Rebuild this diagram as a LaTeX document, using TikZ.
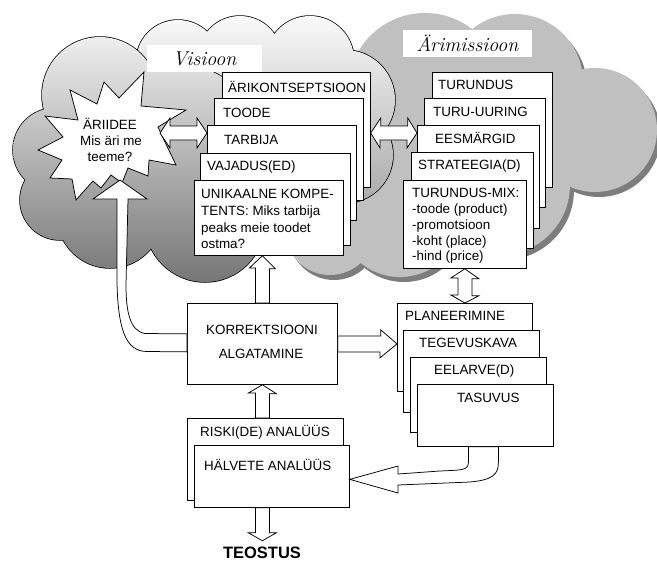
\documentclass[tikz,border=0pt]{standalone}
\usepackage{fontspec}
\setmainfont{Liberation Sans}
\usetikzlibrary{calc}
\definecolor{rcloud}{RGB}{192,192,192}
\definecolor{rshadow}{RGB}{125,125,125}
\definecolor{ltop}{RGB}{238,238,238}
\definecolor{lbot}{RGB}{118,118,118}
\definecolor{mtop}{RGB}{250,250,250}
\definecolor{mbot}{RGB}{150,150,150}
\newcommand\lblscript{\fontencoding{TU}\fontfamily{lmr}\fontseries{m}\fontshape{it}\selectfont}
\newcommand\rlist{425/90/77,515/82/68,595/130/62,500/185/70,400/215/62,330/230/45,480/140/80,390/150/60}
\newcommand\mlist{178/62/42,240/58/42,310/60/44,345/100/50,345/155/48,270/140/80}
\newcommand\llist{100/95/58,55/150/42,60/200/40,110/215/53,205/222/60,180/145/80,230/170/60}
\begin{document}
\begin{tikzpicture}[x=1pt,y=-1pt,
  box/.style={draw=black,fill=white,line width=0.75pt,inner sep=0pt,anchor=north west},
  lbl/.style={font=\fontsize{13.4}{16}\selectfont,inner sep=0pt,anchor=base west},
  clbl/.style={font=\fontsize{13.4}{16}\selectfont,inner sep=0pt,anchor=base},
  hollow/.style={draw=black,fill=white,line width=0.75pt,line join=miter},
  tag/.style={fill=white,inner sep=0pt,font=\lblscript\fontsize{20}{22}\selectfont}]
\useasboundingbox (0,0) rectangle (657,563);

% right cloud (flat grey with shadow)
\fill[rshadow,shift={(4,5)}] \foreach \a/\b/\r in \rlist {(\a,\b) circle[radius=\r pt]};
\fill[rcloud] \foreach \a/\b/\r in \rlist {(\a,\b) circle[radius=\r pt]};

% middle cloud (light gradient)
\draw[line width=1.5pt] \foreach \a/\b/\r in \mlist {(\a,\b) circle[radius=\r pt]};
\begin{scope}
  \clip \foreach \a/\b/\r in \mlist {(\a,\b) circle[radius=\r pt]};
  \shade[top color=mtop,bottom color=mbot] (120,14) rectangle (400,250);
\end{scope}

% left cloud (dark gradient)
\draw[line width=1.5pt] \foreach \a/\b/\r in \llist {(\a,\b) circle[radius=\r pt]};
\begin{scope}
  \clip \foreach \a/\b/\r in \llist {(\a,\b) circle[radius=\r pt]};
  \shade[top color=ltop,bottom color=lbot] (0,37) rectangle (300,283);
\end{scope}

% labels
\node[tag,minimum width=115pt,minimum height=27pt] (vis) at (204.5,58.5) {Visioon};
\node[tag,minimum width=129pt,minimum height=27pt] (ari) at (467.5,43.5) {Ärimissioon};

% star
\draw[hollow] (45,116) -- (78,120) -- (70,90) -- (97,104) -- (104,82) -- (119,98) -- (144,72)
  -- (141,106) -- (186,110) -- (158,127) -- (164,140) -- (176,165) -- (149,160) -- (148,176)
  -- (128,168) -- (122,183) -- (111,175) -- (101,188) -- (93,181) -- (76,200) -- (72,179)
  -- (50,178) -- (62,160) -- (38,150) -- (63,137) -- cycle;
\node[clbl] (st1) at (110,129) {ÄRIIDEE};
\node[clbl] (st2) at (111,145) {Mis äri me};
\node[clbl] (st3) at (110,161) {teeme?};
\coordinate (starR) at (160,133);
\coordinate (starB) at (120,180);

% left stack
\node[box,minimum width=148pt,minimum height=115pt] (b1) at (222,72) {};
\node[box,minimum width=149pt,minimum height=102pt] (b2) at (214,98) {};
\node[box,minimum width=149pt,minimum height=95pt] (tarb) at (207,125) {};
\node[box,minimum width=150pt,minimum height=92pt] (b4) at (200,153) {};
\node[box,minimum width=149pt,minimum height=75pt] (unik) at (194,180) {};
\node[lbl] (t1) at (228,92) {ÄRIKONTSEPTSIOON};
\node[lbl] (t2) at (223,117) {TOODE};
\node[lbl] (t3) at (224,144) {TARBIJA};
\node[lbl] (t4) at (207,170) {VAJADUS(ED)};
\node[lbl] (t5a) at (201,198) {UNIKAALNE KOMPE-};
\node[lbl] (t5b) at (201,215) {TENTS: Miks tarbija};
\node[lbl] (t5c) at (201,232) {peaks meie toodet};
\node[lbl] (t5d) at (201,248) {ostma?};

% right stack
\node[box,minimum width=120pt,minimum height=115pt] (r1) at (432,72) {};
\node[box,minimum width=121pt,minimum height=109pt] (r2) at (424,98) {};
\node[box,minimum width=122pt,minimum height=103pt] (r3) at (417,125) {};
\node[box,minimum width=122pt,minimum height=96pt] (r4) at (411,152) {};
\node[box,minimum width=123pt,minimum height=88pt] (mix) at (403,180) {};
\node[lbl] (u1) at (438,89) {TURUNDUS};
\node[lbl] (u2) at (433,116) {TURU-UURING};
\node[lbl] (u3) at (435,143) {EESMÄRGID};
\node[lbl] (u4) at (418,169) {STRATEEGIA(D)};
\node[lbl] (u5a) at (412,197) {TURUNDUS-MIX:};
\node[lbl] (u5b) at (412,213) {-toode (product)};
\node[lbl] (u5c) at (412,229) {-promotsioon};
\node[lbl] (u5d) at (412,245) {-koht (place)};
\node[lbl] (u5e) at (412,260) {-hind (price)};

% planning stack
\node[box,minimum width=135pt,minimum height=88pt] (plan) at (397,303) {};
\node[box,minimum width=136pt,minimum height=82pt] (p2) at (403,330) {};
\node[box,minimum width=136pt,minimum height=75pt] (p3) at (410,357) {};
\node[box,minimum width=136pt,minimum height=62pt] (tas) at (417,384) {};
\node[lbl] (v1) at (405,320) {PLANEERIMINE};
\node[lbl] (v2) at (419,347) {TEGEVUSKAVA};
\node[lbl] (v3) at (434,374) {EELARVE(D)};
\node[lbl] (v4) at (457,402) {TASUVUS};

% correction box
\node[box,minimum width=150pt,minimum height=81pt] (korr) at (187,303) {};
\node[clbl] (k1) at (262,334) {KORREKTSIOONI};
\node[clbl] (k2) at (261,358) {ALGATAMINE};

% risk stack
\node[box,minimum width=156pt,minimum height=82pt] (riski) at (187,418) {};
\node[box,minimum width=155pt,minimum height=62pt] (hal) at (194,445) {};
\node[lbl] (h1) at (200,436) {RISKI(DE) ANALÜÜS};
\node[lbl] (h2) at (204,470) {HÄLVETE ANALÜÜS};

\node[font=\bfseries\fontsize{16.5}{19}\selectfont,inner sep=0pt,anchor=base] (teo) at (262,558) {TEOSTUS};

% arrows
% star <-> TARBIJA
\draw[hollow] (starR) -- ++(10,-15) -- ++(0,8) -- ++(27,0) -- ++(0,-8) -- (starR -| tarb.west)
  -- ++(-10,15) -- ++(0,-8) -- ++(-27,0) -- ++(0,8) -- cycle;
% left stack <-> right stack
\draw[hollow] (starR -| b1.east) -- ++(10,-15) -- ++(0,8) -- ++(27,0) -- ++(0,-8) -- (starR -| r3.west)
  -- ++(-10,15) -- ++(0,-8) -- ++(-27,0) -- ++(0,8) -- cycle;
% korr -> unik
\draw[hollow] ($(korr.north)+(-7,0)$) -- ++(0,-35) -- ++(-6,0) -- (korr.north |- unik.south)
  -- ++(13,13) -- ++(-6,0) -- ($(korr.north)+(7,0)$) -- cycle;
% riski -> korr
\draw[hollow] ($(korr.south |- riski.north)+(-7,0)$) -- ++(0,-25) -- ++(-7,0) -- (korr.south)
  -- ++(14,9) -- ++(-7,0) -- ($(korr.south |- riski.north)+(7,0)$) -- cycle;
% hal -> teostus
\draw[hollow] ($(korr.south |- hal.south)+(-7,0)$) -- ++(0,25) -- ++(-7,0) -- ++(14,8)
  -- ++(14,-8) -- ++(-7,0) -- ++(0,-25) -- cycle;
% korr -> plan
\draw[hollow] ($(korr.east)+(0,-8)$) -- ++(43,0) -- ++(0,-6) -- (korr.east -| plan.west)
  -- ++(-17,14) -- ++(0,-6) -- ($(korr.east)+(0,8)$) -- cycle;
% mix <-> plan
\draw[hollow] (mix.south) -- ++(14,10) -- ++(-7,0) -- ++(0,17) -- ++(7,0) -- (plan.north)
  -- ++(-14,-8) -- ++(7,0) -- ++(0,-17) -- ++(-7,0) -- cycle;
% korr -> star (curved)
\draw[hollow] ($(korr.west)+(0,-10)$) -- (145,333.5) .. controls (130,331) and (126,312) .. (126,285)
  -- (128,199) -- (147,199) -- (starB) -- (93,199) -- (117,199) -- (117,282)
  .. controls (118,330) and (126,351.5) .. (147,351.5) -- ($(korr.west)+(0,8)$) -- cycle;
% tasuvus -> hal (curved)
\draw[hollow] ($(tas.south)+(-17,0)$) -- ++(0,16) .. controls +(0,8) and (460,470) .. (440,471)
  -- (398,474) -- (398,466) -- ($(hal.east)+(0,3)$) -- (398,493) -- (398,485) -- (470,482)
  .. controls (492,480) and ($(tas.south)+(13,28)$) .. ($(tas.south)+(13,16)$)
  -- ($(tas.south)+(13,0)$) -- cycle;
\end{tikzpicture}
\end{document}
